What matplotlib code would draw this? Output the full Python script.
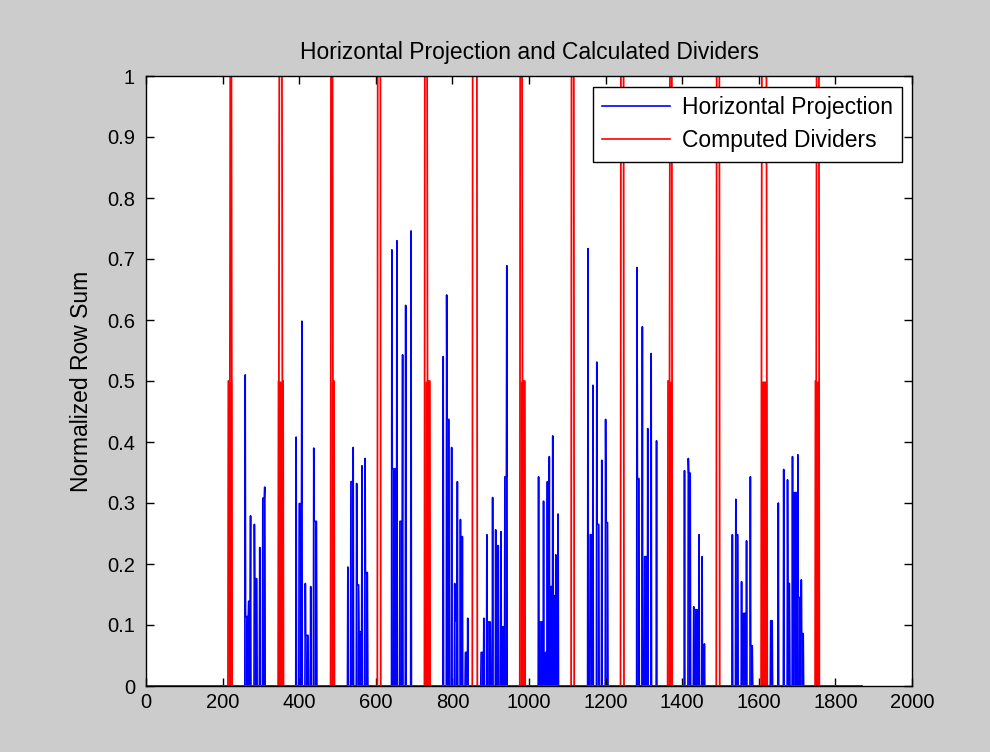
import numpy as np
import matplotlib
matplotlib.use("Agg")
import matplotlib.pyplot as plt

plt.rcParams["font.family"] = ["Liberation Sans", "DejaVu Sans"]

# number of image rows in the projection
n_rows = 1870

# single-row peaks of the horizontal projection (row, normalized sum)
peak_rows = [259, 273, 283, 297, 305, 310,
             392, 407, 416, 430, 438,
             527, 535, 541, 550, 564, 572,
             642, 655, 670, 678, 692,
             776, 785, 798, 806, 813, 821, 826, 840,
             882, 890, 905, 913, 918, 927, 937, 942,
             1025, 1038, 1048, 1053, 1062, 1070, 1076,
             1154, 1167, 1177, 1190, 1200,
             1282, 1296, 1310, 1319, 1333,
             1406, 1416, 1430, 1444, 1452, 1458,
             1531, 1540, 1555, 1568, 1578,
             1651, 1665, 1675, 1688, 1702, 1711]
peak_vals = [0.51, 0.279, 0.265, 0.227, 0.308, 0.326,
             0.408, 0.598, 0.168, 0.163, 0.390,
             0.195, 0.335, 0.391, 0.332, 0.361, 0.373,
             0.715, 0.730, 0.543, 0.624, 0.746,
             0.540, 0.641, 0.391, 0.168, 0.335, 0.273, 0.245, 0.111,
             0.111, 0.248, 0.309, 0.256, 0.230, 0.253, 0.343, 0.689,
             0.343, 0.303, 0.335, 0.376, 0.410, 0.215, 0.282,
             0.717, 0.493, 0.531, 0.370, 0.437,
             0.686, 0.589, 0.422, 0.545, 0.402,
             0.353, 0.373, 0.130, 0.248, 0.212, 0.069,
             0.248, 0.306, 0.171, 0.238, 0.343,
             0.300, 0.355, 0.338, 0.376, 0.379, 0.174]

# runs of consecutive rows with a low, flat sum (start, end, value)
run_start = [259, 268, 283, 305,
             400, 417, 439,
             535, 551, 556, 572,
             642, 663,
             785, 807, 834,
             875, 893, 916, 931, 937,
             1028, 1043, 1057, 1064,
             1160, 1178, 1201,
             1282, 1302,
             1416, 1430,
             1540, 1560, 1578,
             1631, 1675, 1693, 1702, 1711]
run_end = [268, 272, 289, 310,
           406, 423, 445,
           540, 556, 563, 578,
           651, 669,
           791, 812, 838,
           880, 899, 920, 935, 942,
           1036, 1046, 1059, 1067,
           1163, 1182, 1205,
           1287, 1307,
           1421, 1440,
           1545, 1565, 1583,
           1635, 1680, 1698, 1707, 1716]
run_vals = [0.114, 0.139, 0.176, 0.308,
            0.299, 0.083, 0.27,
            0.335, 0.166, 0.089, 0.186,
            0.356, 0.270,
            0.437, 0.107, 0.055,
            0.055, 0.105, 0.230, 0.097, 0.343,
            0.105, 0.055, 0.163, 0.148,
            0.248, 0.265, 0.268,
            0.340, 0.212,
            0.349, 0.125,
            0.248, 0.119, 0.066,
            0.107, 0.168, 0.317, 0.145, 0.086]

# computed dividers: rows marked 1 and the half-level rows beside them
div_start = [220, 348, 483, 605, 728, 853, 977, 1111, 1240, 1368, 1490, 1608, 1751]
div_end = [223, 355, 487, 612, 734, 864, 982, 1117, 1247, 1373, 1497, 1620, 1757]
half_start = [215, 346, 483, 728, 977, 1363, 1607, 1748]
half_end = [224, 358, 491, 741, 989, 1373, 1621, 1757]

rows = np.arange(n_rows)

# flat runs are dense row-to-row oscillation in the original, drawn as filled area
run_level = np.zeros(n_rows)
for a, b, v in zip(run_start, run_end, run_vals):
    run_level[a:b + 1] = v
projection = run_level.copy()
for r, v in zip(peak_rows, peak_vals):
    projection[r] = v

half_level = np.zeros(n_rows)
for a, b in zip(half_start, half_end):
    half_level[a:b + 1] = 0.5
dividers = half_level.copy()
for a, b in zip(div_start, div_end):
    dividers[a:b + 1] = 1.0

fig = plt.figure(figsize=(9.9, 7.52), dpi=100, facecolor="#cccccc")
ax = fig.add_axes([146 / 990, 66 / 752, 766 / 990, 610 / 752])

ax.fill_between(rows, 0, run_level, color="blue", lw=0)
ax.plot(rows, projection, color="blue", lw=1.2, label="Horizontal Projection")
ax.fill_between(rows, 0, half_level, color="red", lw=0)
ax.plot(rows, dividers, color="red", lw=1.3, label="Computed Dividers")

ax.set_xlim(0, 2000)
ax.set_ylim(0, 1)
ax.set_xticks(np.arange(0, 2001, 200))
ax.set_yticks(np.round(np.arange(0, 1.01, 0.1), 1))
ax.set_yticklabels(["0", "0.1", "0.2", "0.3", "0.4", "0.5", "0.6", "0.7", "0.8", "0.9", "1"])
ax.tick_params(direction="in", length=6, width=1, top=True, right=True,
               labelsize=14.5, colors="black")
ax.tick_params(axis="y", pad=8)
ax.tick_params(axis="x", pad=5)
for s in ax.spines.values():
    s.set_linewidth(1)

ax.set_title("Horizontal Projection and Calculated Dividers", fontsize=16.5, pad=12)
ax.set_ylabel("Normalized Row Sum", fontsize=16.5, labelpad=10)

leg = ax.legend(loc="upper right", bbox_to_anchor=(0.987, 0.982), borderaxespad=0,
                fontsize=16.5, fancybox=False, framealpha=1, edgecolor="black",
                handlelength=3.0, handletextpad=0.5, borderpad=0.4, labelspacing=0.45)
leg.get_frame().set_linewidth(1)
for line in leg.get_lines():
    line.set_linewidth(1.2)

fig.savefig("out.png", dpi=100, facecolor=fig.get_facecolor())
